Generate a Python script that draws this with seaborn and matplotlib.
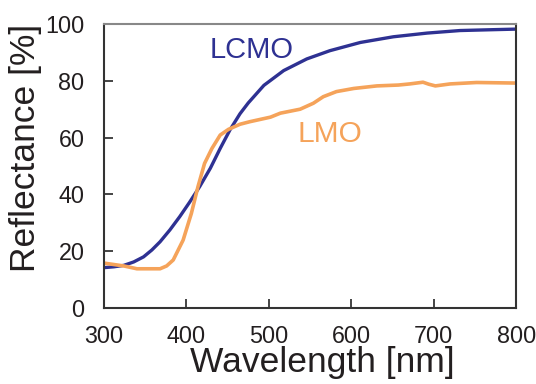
import matplotlib
matplotlib.use("Agg")
import matplotlib.pyplot as plt
import seaborn as sns
import pandas as pd

# Diffuse reflectance spectra
lcmo_wl = [300, 312, 324, 336, 348, 358, 368, 380, 392, 404, 416, 429, 441,
           453, 465, 475, 494, 518, 546, 574, 611, 651, 692, 732, 772, 800]
lcmo_r = [14.2, 14.5, 15.0, 16.2, 18.0, 20.4, 23.3, 27.5, 32.2, 37.3, 42.7,
          49.2, 56.2, 62.8, 68.4, 72.2, 78.4, 83.6, 87.7, 90.6, 93.5, 95.5,
          96.8, 97.7, 98.0, 98.2]

lmo_wl = [300, 324, 340, 368, 376, 384, 396, 406, 414, 422, 431, 441, 451,
          465, 477, 502, 514, 538, 554, 566, 582, 603, 631, 657, 671, 687,
          694, 702, 720, 752, 800]
lmo_r = [15.8, 14.8, 13.8, 13.8, 14.8, 16.9, 23.9, 33.3, 42.7, 50.9, 56.2,
         60.9, 62.9, 64.7, 65.6, 67.2, 68.6, 70.0, 72.1, 74.4, 76.2, 77.3,
         78.2, 78.5, 78.9, 79.5, 78.8, 78.2, 78.9, 79.4, 79.2]

x_ticks = [300, 400, 500, 600, 700, 800]
y_ticks = [0, 20, 40, 60, 80, 100]

blue = "#2E3192"
orange = "#F5A35A"

sns.set_style("ticks")
plt.rcParams["font.family"] = ["Liberation Sans", "DejaVu Sans"]

df_lcmo = pd.DataFrame({"wl": lcmo_wl, "r": lcmo_r})
df_lmo = pd.DataFrame({"wl": lmo_wl, "r": lmo_r})

fig = plt.figure(figsize=(5.36, 3.84), dpi=100)
ax = fig.add_axes([0.194, 0.198, 0.769, 0.7395])

sns.lineplot(data=df_lcmo, x="wl", y="r", ax=ax, color=blue, linewidth=2.4)
sns.lineplot(data=df_lmo, x="wl", y="r", ax=ax, color=orange, linewidth=2.6)

ax.set_xlim(300, 800)
ax.set_ylim(0, 100)
ax.set_xticks(x_ticks)
ax.set_yticks(y_ticks)

for side in ["left", "bottom", "right"]:
    ax.spines[side].set_color("#333333")
    ax.spines[side].set_linewidth(1.5)
ax.spines["top"].set_color("#888888")
ax.spines["top"].set_linewidth(1.5)

ax.set_xlabel("Wavelength [nm]", fontsize=25.5, color="#231F20")
ax.set_ylabel("Reflectance [%]", fontsize=25.5, color="#231F20")
ax.xaxis.set_label_coords(0.53, -0.135)
ax.yaxis.set_label_coords(-0.15, 0.565)

ax.text(479, 91, "LCMO", color=blue, fontsize=21, ha="center", va="center")
ax.text(574, 61.4, "LMO", color=orange, fontsize=21.5, ha="center", va="center")

# Inward tick marks on the left and bottom axes
ax.tick_params(axis="both", which="major", direction="in", length=6.5,
               width=1.4, color="#444444", labelcolor="#231F20",
               labelsize=16.8)
ax.tick_params(axis="x", pad=12)
ax.tick_params(axis="y", pad=14)

fig.savefig("out.png", dpi=100)
